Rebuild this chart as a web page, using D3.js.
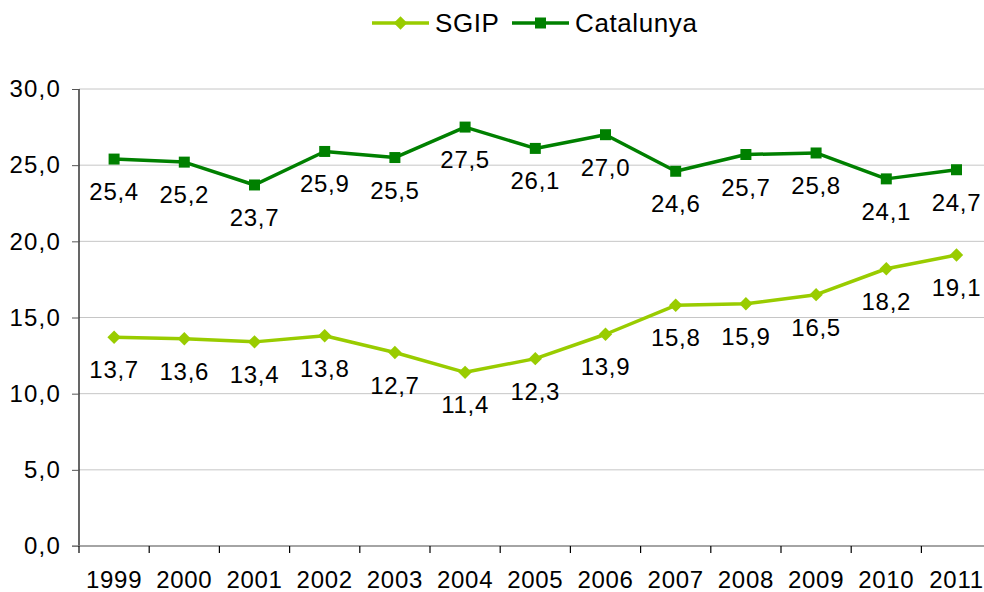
<!DOCTYPE html>
<html>
<head>
<meta charset="utf-8">
<script src="https://cdn.jsdelivr.net/npm/d3@7"></script>
<style>
  html, body { margin: 0; padding: 0; background: #fff; }
  svg { display: block; font-family: "Liberation Sans", Arial, sans-serif; }
</style>
</head>
<body>
<svg id="chart" width="984" height="592"></svg>
<script>
const years = ["1999","2000","2001","2002","2003","2004","2005","2006","2007","2008","2009","2010","2011"];
const sgip = [13.7,13.6,13.4,13.8,12.7,11.4,12.3,13.9,15.8,15.9,16.5,18.2,19.1];
const catalunya = [25.4,25.2,23.7,25.9,25.5,27.5,26.1,27.0,24.6,25.7,25.8,24.1,24.7];
const yTicks = [0,5,10,15,20,25,30];
const seriesNames = ["SGIP","Catalunya"];
const seriesColors = ["#99cc00","#008000"];

(function () {
const svg = d3.select("#chart");
const pLeft = 79, pRight = 991.6, pTop = 89, pBottom = 546;
const x = d3.scaleBand().domain(years).range([pLeft, pRight]).paddingInner(0).paddingOuter(0);
const y = d3.scaleLinear().domain([0,30]).range([pBottom, pTop]);
const fmt = v => d3.format(".1f")(v).replace(".", ",");
const fontSize = 24;
const ls = "0.7px";

// gridlines
svg.append("g").selectAll("line").data(yTicks.filter(t => t > 0)).join("line")
  .attr("x1", pLeft).attr("x2", 984)
  .attr("y1", d => y(d)).attr("y2", d => y(d))
  .attr("stroke", "#c6c6c6").attr("stroke-width", 1);

// y axis
const yAxis = d3.axisLeft(y).tickValues(yTicks).tickFormat(fmt).tickSize(7).tickPadding(11);
const gy = svg.append("g").attr("transform", `translate(${pLeft},0)`).call(yAxis);
gy.select(".domain").attr("stroke", "#000").attr("stroke-width", 1.2).attr("d", `M0,${pBottom}V${pTop}`);
gy.selectAll(".tick line").attr("stroke", "#555");
gy.selectAll("text").attr("font-size", fontSize).attr("fill", "#000")
  .attr("letter-spacing", "1.2px")
  .attr("font-family", "Liberation Sans, Arial, sans-serif");

// x axis
const gx = svg.append("g").attr("transform", `translate(0,${pBottom})`);
gx.append("line").attr("x1", pLeft - 7).attr("x2", 984).attr("y1", 0).attr("y2", 0)
  .attr("stroke", "#868686").attr("stroke-width", 1.6);
const bounds = years.map(d => x(d));
gx.selectAll("line.tk").data(bounds).join("line").attr("class","tk")
  .attr("x1", d => d).attr("x2", d => d).attr("y1", 0).attr("y2", 7)
  .attr("stroke", "#000").attr("stroke-width", 1.2);
gx.selectAll("text").data(years).join("text")
  .attr("x", d => x(d) + x.bandwidth()/2).attr("y", 42)
  .attr("text-anchor", "middle").attr("font-size", fontSize).attr("fill", "#000")
  .attr("letter-spacing", ls)
  .text(d => d);

const line = d3.line().x((d,i) => x(years[i]) + x.bandwidth()/2).y(d => y(d));

function drawSeries(data, color, shape) {
  const g = svg.append("g");
  g.append("path").datum(data).attr("d", line).attr("fill", "none")
    .attr("stroke", color).attr("stroke-width", 3.5).attr("stroke-linejoin", "round");
  const sym = shape === "diamond"
    ? d3.symbol().type(d3.symbolSquare).size(90)
    : d3.symbol().type(d3.symbolSquare).size(121);
  g.selectAll("path.m").data(data).join("path").attr("class","m")
    .attr("d", sym)
    .attr("transform", (d,i) => `translate(${x(years[i]) + x.bandwidth()/2},${y(d)})` + (shape === "diamond" ? " rotate(45)" : ""))
    .attr("fill", color);
  g.selectAll("text").data(data).join("text")
    .attr("x", (d,i) => x(years[i]) + x.bandwidth()/2)
    .attr("y", d => y(d) + 41)
    .attr("text-anchor", "middle").attr("font-size", fontSize).attr("fill", "#000")
    .attr("letter-spacing", ls)
    .text(d => fmt(d));
}
drawSeries(sgip, seriesColors[0], "diamond");
drawSeries(catalunya, seriesColors[1], "square");

// legend
const legend = svg.append("g");
const legItems = [
  {name: seriesNames[0], color: seriesColors[0], shape: "diamond", x0: 372},
  {name: seriesNames[1], color: seriesColors[1], shape: "square", x0: 512}
];
legItems.forEach(it => {
  legend.append("line").attr("x1", it.x0).attr("x2", it.x0 + 57).attr("y1", 23).attr("y2", 23)
    .attr("stroke", it.color).attr("stroke-width", 3.5);
  legend.append("path")
    .attr("d", d3.symbol().type(d3.symbolSquare).size(it.shape === "diamond" ? 90 : 121)())
    .attr("transform", `translate(${it.x0 + 28.5},23)` + (it.shape === "diamond" ? " rotate(45)" : ""))
    .attr("fill", it.color);
  legend.append("text").attr("x", it.x0 + 63).attr("y", 32).attr("font-size", 26)
    .attr("letter-spacing", "0.6px").attr("fill", "#000").text(it.name);
});
})();
</script>
</body>
</html>
